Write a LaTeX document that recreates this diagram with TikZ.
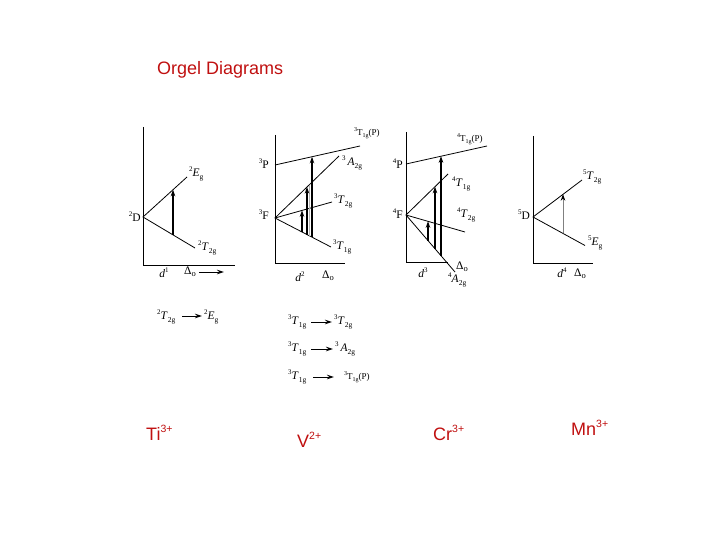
\documentclass[tikz,border=0pt]{standalone}
\usepackage{fontspec}
\setmainfont{Liberation Serif}
\newfontfamily\arialfont{Liberation Sans}
\usetikzlibrary{arrows.meta}
\definecolor{titlered}{RGB}{192,16,16}
\newcommand{\tsup}[1]{\raisebox{0.42em}{\fontsize{7}{8}\selectfont #1}}
\newcommand{\tsub}[1]{\raisebox{-0.3em}{\fontsize{7.5}{8}\selectfont #1}}
\newcommand{\term}[3]{\tsup{#1}\textit{#2}\tsub{#3}}
\newcommand{\smallP}[1]{{\fontsize{9}{10}\selectfont\raisebox{0.45em}{\fontsize{6}{7}\selectfont #1}T\raisebox{-0.25em}{\fontsize{6}{7}\selectfont 1g}(P)}}
\newcommand{\rsup}[1]{\raisebox{0.42em}{\fontsize{10.5}{12}\selectfont #1}}
\newcommand{\deltao}{Δ\raisebox{-0.15em}{\fontsize{8.5}{9}\selectfont o}}
\begin{document}
\begin{tikzpicture}[x=1pt,y=-1pt,
  axisline/.style={line width=0.9pt},
  lvl/.style={line width=0.8pt},
  trans/.style={line width=1.5pt,-{Stealth[length=6.5pt,width=4.5pt]}},
  grayline/.style={line width=0.9pt,gray!60},
  graytrans/.style={line width=0.8pt,gray,-{Stealth[length=6.5pt,width=4.5pt,color=black]}},
  txarrow/.style={line width=1pt,-{Stealth[length=7pt,width=4.5pt]}},
  lab/.style={inner sep=0pt,font=\fontsize{11.5}{13}\selectfont},
  redlab/.style={inner sep=0pt,text=titlered,font=\arialfont\fontsize{18}{21}\selectfont}]
\useasboundingbox (0,0) rectangle (720,540);

% ---------- red titles ----------
\node[redlab,anchor=base west] (title) at (157,75) {Orgel Diagrams};
\node[redlab,anchor=base west] (ti) at (146,440) {Ti\rsup{3+}};
\node[redlab,anchor=base west] (v) at (297,447) {V\rsup{2+}};
\node[redlab,anchor=base west] (cr) at (433,440) {Cr\rsup{3+}};
\node[redlab,anchor=base west] (mn) at (571,435) {Mn\rsup{3+}};

% ---------- d1 ----------
\coordinate (a1t) at (143,127);
\coordinate (a1o) at (143,265);
\coordinate (a1e) at (235,265);
\draw[axisline] (a1t) -- (a1o) -- (a1e);
\coordinate (D2) at (143,217);
\coordinate (Eg2) at (187,177);
\coordinate (T2g2) at (195,248);
\draw[lvl] (Eg2) -- (D2) -- (T2g2);
\coordinate (t1b) at (173,234.9);
\coordinate (t1t) at (173,189.7);
\draw[trans] (t1b) -- (t1t);
\node[lab,anchor=east] (lD2) at (141,217) {\tsup{2}D};
\node[lab,anchor=west] (lEg2) at (189,174) {\term{2}{E}{g}};
\node[lab,anchor=west] (lT2g2) at (198,248) {\term{2}{T}{2g}};
\node[lab] (ld1) at (164,273) {\textit{d}\tsup{1}};
\node[lab] (lDo1) at (190,272) {\deltao};
\coordinate (do1a) at (199,272);
\coordinate (do1b) at (224,272);
\draw[txarrow] (do1a) -- (do1b);

% ---------- d2 ----------
\coordinate (a2t) at (275,135);
\coordinate (a2o) at (275,263);
\coordinate (a2e) at (345,263);
\draw[axisline] (a2t) -- (a2o) -- (a2e);
\coordinate (P3) at (275,165);
\coordinate (T1gP3) at (360,146);
\draw[lvl] (P3) -- (T1gP3);
\coordinate (F3) at (275,218);
\coordinate (A2g3) at (339,156);
\coordinate (T2g3) at (332,202);
\coordinate (T1g3) at (331,247);
\draw[lvl] (A2g3) -- (F3) -- (T1g3);
\draw[lvl] (F3) -- (T2g3);
\coordinate (t2ab) at (302,232);
\coordinate (t2at) at (302,210.4);
\draw[trans] (t2ab) -- (t2at);
\coordinate (t2gb) at (309.5,235.9);
\coordinate (t2gt) at (309.5,184.6);
\draw[grayline] (t2gb) -- (t2gt);
\coordinate (t2bb) at (307,234.6);
\coordinate (t2bt) at (307,187);
\draw[trans] (t2bb) -- (t2bt);
\coordinate (t2cb) at (312,237.2);
\coordinate (t2ct) at (312,156.8);
\draw[trans] (t2cb) -- (t2ct);
\node[lab,anchor=west] (lT1gP3) at (354,133) {\smallP{3}};
\node[lab,anchor=east] (lP3) at (269,164) {\tsup{3}P};
\node[lab,anchor=west] (lA2g3) at (342,163) {\tsup{3}\,\textit{A}\tsub{2g}};
\node[lab,anchor=west] (lT2g3) at (334,201) {\term{3}{T}{2g}};
\node[lab,anchor=east] (lF3) at (269,215) {\tsup{3}F};
\node[lab,anchor=west] (lT1g3) at (333,247) {\term{3}{T}{1g}};
\node[lab] (ld2) at (300,277) {\textit{d}\tsup{2}};
\node[lab] (lDo2) at (328,276) {\deltao};

% ---------- d3 ----------
\coordinate (a3t) at (406,132);
\coordinate (a3o) at (406,262);
\coordinate (a3e) at (448,262);
\draw[axisline] (a3t) -- (a3o) -- (a3e);
\coordinate (P4) at (406,164);
\coordinate (T1gP4) at (487,146);
\draw[lvl] (P4) -- (T1gP4);
\coordinate (F4) at (406,215);
\coordinate (T1g4) at (448,174);
\coordinate (T2g4) at (465,232);
\coordinate (A2g4) at (455,272);
\draw[lvl] (T1g4) -- (F4) -- (A2g4);
\draw[lvl] (F4) -- (T2g4);
\coordinate (t3ab) at (428,240.6);
\coordinate (t3at) at (428,221.3);
\draw[trans] (t3ab) -- (t3at);
\coordinate (t3bb) at (435,248.7);
\coordinate (t3bt) at (435,186.7);
\draw[trans] (t3bb) -- (t3bt);
\coordinate (t3cb) at (441,255.7);
\coordinate (t3ct) at (441,156.2);
\draw[trans] (t3cb) -- (t3ct);
\node[lab,anchor=west] (lT1gP4) at (457,139) {\smallP{4}};
\node[lab,anchor=east] (lP4) at (403,164) {\tsup{4}P};
\node[lab,anchor=west] (lT1g4) at (452,184) {\term{4}{T}{1g}};
\node[lab,anchor=west] (lT2g4) at (457,215) {\term{4}{T}{2g}};
\node[lab,anchor=east] (lF4) at (403,214) {\tsup{4}F};
\node[lab,anchor=west] (lDo3) at (456,267) {\deltao};
\node[lab,anchor=west] (lA2g4) at (448,280) {\term{4}{A}{2g}};
\node[lab] (ld3) at (423,273) {\textit{d}\tsup{3}};

% ---------- d4 ----------
\coordinate (a4t) at (533,136);
\coordinate (a4o) at (533,263);
\coordinate (a4e) at (593,263);
\draw[axisline] (a4t) -- (a4o) -- (a4e);
\coordinate (D5) at (533,217);
\coordinate (T2g5) at (582,180);
\coordinate (Eg5) at (585,245.5);
\draw[lvl] (T2g5) -- (D5) -- (Eg5);
\coordinate (t4b) at (563,233.4);
\coordinate (t4t) at (563,194.2);
\draw[graytrans] (t4b) -- (t4t);
\node[lab,anchor=east] (lD5) at (530,215) {\tsup{5}D};
\node[lab,anchor=west] (lT2g5) at (583,177) {\term{5}{T}{2g}};
\node[lab,anchor=west] (lEg5) at (588,243) {\term{5}{E}{g}};
\node[lab] (ld4) at (562,273) {\textit{d}\tsup{4}};
\node[lab] (lDo4) at (580,274) {\deltao};

% ---------- transitions ----------
\node[lab,anchor=west] (r1a) at (157,317) {\term{2}{T}{2g}};
\node[lab,anchor=west] (r1b) at (204,317) {\term{2}{E}{g}};
\coordinate (r1s) at (182,316);
\coordinate (r1e) at (202,316);
\draw[txarrow] (r1s) -- (r1e);

\node[lab,anchor=west] (r2a) at (288,322) {\term{3}{T}{1g}};
\node[lab,anchor=west] (r2b) at (334,322) {\term{3}{T}{2g}};
\coordinate (r2s) at (311,322);
\coordinate (r2e) at (332,322);
\draw[txarrow] (r2s) -- (r2e);

\node[lab,anchor=west] (r3a) at (288,349) {\term{3}{T}{1g}};
\node[lab,anchor=west] (r3b) at (335,349) {\tsup{3}\,\textit{A}\tsub{2g}};
\coordinate (r3s) at (311,349);
\coordinate (r3e) at (333,349);
\draw[txarrow] (r3s) -- (r3e);

\node[lab,anchor=west] (r4a) at (288,377) {\term{3}{T}{1g}};
\node[lab,anchor=west] (r4b) at (344,377) {\smallP{3}};
\coordinate (r4s) at (313,377);
\coordinate (r4e) at (334,377);
\draw[txarrow] (r4s) -- (r4e);
\end{tikzpicture}
\end{document}
